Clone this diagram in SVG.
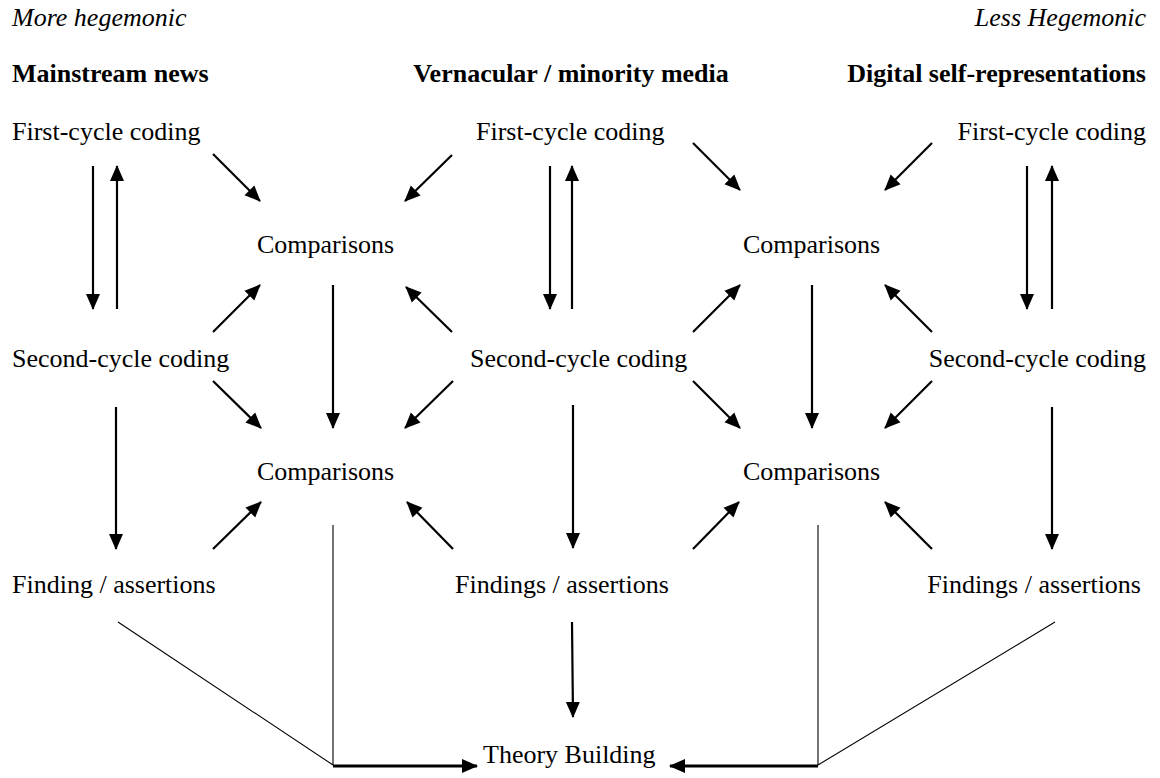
<svg xmlns="http://www.w3.org/2000/svg" width="1160" height="778" viewBox="0 0 1160 778">
<defs>
<style>
text{font-family:"Liberation Serif","Times New Roman",serif;font-size:26px;fill:#000}
.it{font-style:italic}
.b{font-weight:bold}
.e{text-anchor:end}
.a{stroke:#000;stroke-width:2.2;fill:none;marker-end:url(#ah)}
.h{stroke:#000;stroke-width:2.8;fill:none;marker-end:url(#ah)}
.t{stroke:#000;stroke-width:1.1;fill:none}
</style>
<marker id="ah" markerUnits="userSpaceOnUse" markerWidth="16" markerHeight="16" viewBox="0 0 16 16" refX="15" refY="8" orient="auto">
<path d="M0,1 L16,8 L0,15 Z" fill="#000"/>
</marker>
</defs>
<rect width="1160" height="778" fill="#fff"/>
<g id="headers">
<text class="it" x="12" y="26">More hegemonic</text>
<text class="it e" x="1146" y="26">Less Hegemonic</text>
<text class="b" x="12" y="82">Mainstream news</text>
<text class="b" x="571" y="82" text-anchor="middle">Vernacular / minority media</text>
<text class="b e" x="1146" y="82">Digital self-representations</text>
</g>
<g id="left-first"><text x="12" y="140">First-cycle coding</text></g>
<g id="left-comp1"><text x="257" y="253">Comparisons</text></g>
<g id="left-second"><text x="12" y="367">Second-cycle coding</text></g>
<g id="left-comp2"><text x="257" y="480">Comparisons</text></g>
<g id="left-find"><text x="12" y="593">Finding / assertions</text></g>
<g id="mid-first"><text x="476" y="140">First-cycle coding</text></g>
<g id="mid-second"><text x="470" y="367">Second-cycle coding</text></g>
<g id="mid-find"><text x="455" y="593">Findings / assertions</text></g>
<g id="right-first"><text class="e" x="1146" y="140">First-cycle coding</text></g>
<g id="right-comp1"><text x="743" y="253">Comparisons</text></g>
<g id="right-second"><text class="e" x="1146" y="367">Second-cycle coding</text></g>
<g id="right-comp2"><text x="743" y="480">Comparisons</text></g>
<g id="right-find"><text class="e" x="1141" y="593">Findings / assertions</text></g>
<g id="theory"><text x="483" y="763">Theory Building</text></g>
<g id="connectors">
<!-- left column -->
<line class="a" x1="93" y1="166" x2="93" y2="309"/>
<line class="a" x1="117" y1="309" x2="117" y2="166"/>
<line class="a" x1="213" y1="154" x2="260" y2="201"/>
<line class="a" x1="213" y1="332" x2="260" y2="285"/>
<line class="a" x1="213" y1="381" x2="261" y2="428"/>
<line class="a" x1="116" y1="407" x2="116" y2="549"/>
<line class="a" x1="213" y1="549" x2="261" y2="502"/>
<line class="a" x1="333" y1="285" x2="333" y2="428"/>
<!-- middle column -->
<line class="a" x1="550" y1="166" x2="550" y2="309"/>
<line class="a" x1="572" y1="309" x2="572" y2="166"/>
<line class="a" x1="452" y1="155" x2="405" y2="201"/>
<line class="a" x1="693" y1="143" x2="740" y2="190"/>
<line class="a" x1="452" y1="332" x2="406" y2="287"/>
<line class="a" x1="693" y1="332" x2="740" y2="285"/>
<line class="a" x1="453" y1="381" x2="405" y2="428"/>
<line class="a" x1="693" y1="381" x2="740" y2="428"/>
<line class="a" x1="573" y1="405" x2="573" y2="548"/>
<line class="a" x1="453" y1="549" x2="407" y2="502"/>
<line class="a" x1="693" y1="549" x2="739" y2="502"/>
<line class="a" x1="572" y1="622" x2="573" y2="717"/>
<!-- right column -->
<line class="a" x1="1027" y1="166" x2="1027" y2="309"/>
<line class="a" x1="1052" y1="309" x2="1052" y2="166"/>
<line class="a" x1="932" y1="143" x2="885" y2="190"/>
<line class="a" x1="932" y1="332" x2="885" y2="285"/>
<line class="a" x1="932" y1="381" x2="885" y2="428"/>
<line class="a" x1="1052" y1="407" x2="1052" y2="549"/>
<line class="a" x1="932" y1="549" x2="885" y2="502"/>
<line class="a" x1="812" y1="285" x2="812" y2="428"/>
<!-- to theory building -->
<path class="t" d="M118,622 L333,765 M333,525 L333,765"/>
<path class="t" d="M1055,622 L818,765 M818,525 L818,765"/>
<line class="h" x1="333" y1="766" x2="477" y2="766"/>
<line class="h" x1="818" y1="766" x2="670" y2="766"/>
</g>
</svg>
